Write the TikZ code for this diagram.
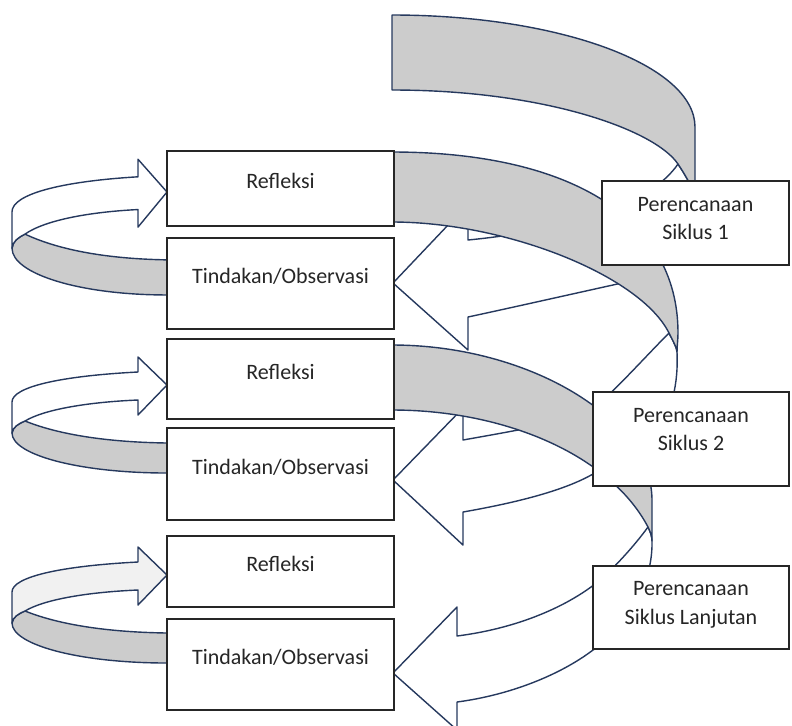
\documentclass[tikz,border=0pt]{standalone}
\usepackage{fontspec}
\setmainfont{Carlito}
\definecolor{garis}{RGB}{38,57,94}
\definecolor{abu}{RGB}{204,204,204}
\definecolor{terang}{RGB}{241,241,241}
\tikzset{
  kotak/.style={draw=black!85, line width=1pt, fill=white, text=black!85, minimum width=113.5pt, inner sep=0pt, text height=1.5ex, text depth=1.5ex, font=\fontsize{11}{14.2}\selectfont},
  rencana/.style={kotak, align=center, minimum width=98pt, text height=20.5pt, text depth=4pt},
  pita/.style={draw=garis, line width=0.7pt, line join=round, fill=abu},
  panah/.style={pita, fill=white}
}
\begin{document}
\begin{tikzpicture}[x=0.5pt,y=-0.5pt]
        \useasboundingbox (0,0) rectangle (792,725);
        %titik lipatan pita
        \coordinate (f1) at (678,164);
        \coordinate (c1) at (695,195);
        \coordinate (f2) at (669,333);
        \coordinate (c2) at (677,352);
        \coordinate (f3) at (648,527);
        \coordinate (c3) at (652,541);
        %putaran kiri
        \foreach \ty/\sy/\warna in {192/1.17/white,385/1/white,575/1/terang} {
        \begin{scope}[shift={(0,\ty)},yscale=\sy]
          \filldraw[pita] (25,36) .. controls (55,48) and (100,57) .. (167,58) -- (167,88)
            .. controls (80,88) and (12,70) .. (12,48) .. controls (13,42) and (18,39) .. (25,36) -- cycle;
          \filldraw[pita,fill=\warna] (167,0) -- (138,-28) -- (138,-13) .. controls (60,-9) and (12,2) .. (12,17) -- (12,48)
            .. controls (13,42) and (18,39) .. (25,36) .. controls (45,24) and (90,17) .. (138,15) -- (138,30) -- cycle;
        \end{scope}}
        %panah putih ke tindakan
        \filldraw[panah] (393,283) -- (468,204) -- (468,240) .. controls (570,230) and (650,205) .. (f1)
          .. controls (684,173) and (690,183) .. (c1) .. controls (695,250) and (662,268) .. (622,283)
          .. controls (572,294) and (510,308) .. (468,317) -- (468,350) -- cycle;
        \filldraw[panah] (393,480) -- (463,408) -- (463,440) .. controls (530,428) and (580,420) .. (600,403)
          .. controls (620,385) and (650,352) .. (f2) .. controls (673,341) and (677,348) .. (c2)
          .. controls (680,415) and (650,462) .. (593,474) .. controls (565,490) and (520,502) .. (463,512) -- (463,545) -- cycle;
        \filldraw[panah] (393,673) -- (457,607) -- (457,636) .. controls (520,628) and (570,605) .. (600,580)
          .. controls (615,567) and (635,545) .. (f3) .. controls (650,531) and (652,536) .. (c3)
          .. controls (653,580) and (630,630) .. (593,650) .. controls (560,675) and (510,695) .. (457,702) -- (457,730) -- cycle;
        %pita abu-abu
        \filldraw[pita] (392,15) .. controls (559,15) and (695,65) .. (695,127) -- (c1)
          .. controls (690,183) and (684,173) .. (f1) .. controls (655,130) and (545,90) .. (392,90) -- cycle;
        \filldraw[pita] (392,152) .. controls (565,152) and (678,215) .. (678,333) .. controls (678,340) and (677,346) .. (c2)
          .. controls (677,348) and (673,341) .. (f2) .. controls (640,275) and (505,222) .. (392,222) -- cycle;
        \filldraw[pita] (392,345) .. controls (530,345) and (652,420) .. (652,500) -- (c3)
          .. controls (652,536) and (650,531) .. (f3) .. controls (610,455) and (505,410) .. (392,410) -- cycle;
        %kotak kiri
        \node[kotak, minimum height=37.5pt] (ref1) at (280.5,188.5) {Refleksi};
        \node[kotak, minimum height=45.5pt] (tin1) at (280.5,283.5) {Tindakan/Observasi};
        \node[kotak, minimum height=40pt] (ref2) at (280.5,379) {Refleksi};
        \node[kotak, minimum height=46pt] (tin2) at (280.5,474) {Tindakan/Observasi};
        \node[kotak, minimum height=35.5pt] (ref3) at (280.5,571.5) {Refleksi};
        \node[kotak, minimum height=45.5pt] (tin3) at (280.5,664.5) {Tindakan/Observasi};
        %kotak perencanaan
        \node[rencana, minimum width=93.5pt, minimum height=42pt] (ren1) at (695.5,223) {Perencanaan\\Siklus 1};
        \node[rencana, minimum height=47pt, text height=15.5pt] (ren2) at (691,439) {Perencanaan\\Siklus 2};
        \node[rencana, minimum height=41.5pt] (ren3) at (691,607.5) {Perencanaan\\Siklus Lanjutan};
    \end{tikzpicture}
\end{document}
